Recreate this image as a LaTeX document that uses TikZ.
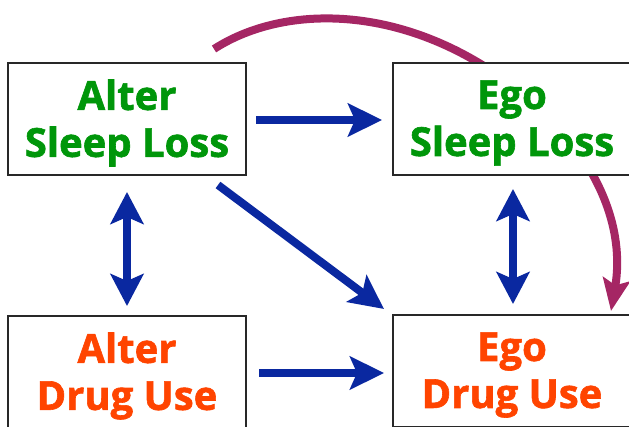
\documentclass[tikz,border=0pt]{standalone}
\usepackage{fontspec}
\setmainfont{Open Sans}[BoldFeatures={FakeBold=1.5}]
\usetikzlibrary{arrows.meta,backgrounds}
\definecolor{sleepgreen}{RGB}{0,150,10}
\definecolor{drugorange}{RGB}{255,68,0}
\definecolor{arrowblue}{RGB}{10,40,160}
\definecolor{curvepurple}{RGB}{165,38,100}
\definecolor{boxgray}{RGB}{40,40,40}
\tikzset{
  varbox/.style={draw=boxgray, line width=2pt, fill=white, minimum width=238pt, minimum height=112pt,
    inner sep=0pt},
  vartext/.style={inner sep=0pt, align=center, font=\fontsize{40}{47}\selectfont\bfseries},
  sleeptext/.style={vartext, text=sleepgreen},
  drugtext/.style={vartext, text=drugorange},
  bluearrow/.style={draw=arrowblue, line width=8pt,
    -{Stealth[length=34pt,width=33pt,inset=7pt]}},
  bluedouble/.style={draw=arrowblue, line width=8pt,
    {Stealth[length=32pt,width=33pt,inset=7pt]}-{Stealth[length=32pt,width=33pt,inset=7pt]}},
  purplearrow/.style={draw=curvepurple, line width=8pt,
    -{Stealth[length=32pt,width=27pt,inset=6pt]}}
}
\begin{document}
\begin{tikzpicture}[x=1pt,y=-1pt]
\useasboundingbox (0,0) rectangle (629,427);
\node[varbox] (asl) at (127,119) {};
\node[varbox] (esl) at (512,119) {};
\node[varbox] (adu) at (127,372) {};
\node[varbox] (edu) at (512,371) {};
\node[sleeptext] (asltext) at ([yshift=-4pt]asl.center) {Alter\\Sleep Loss};
\node[sleeptext] (esltext) at ([yshift=-4pt]esl.center) {Ego\\Sleep Loss};
\node[drugtext] (adutext) at ([yshift=-4pt]adu.center) {Alter\\Drug Use};
\node[drugtext] (edutext) at ([yshift=-4pt]edu.center) {Ego\\Drug Use};
\begin{pgfonlayer}{background}
\draw[purplearrow] ([shift={(-33,-13)}]asl.north east)
  .. controls (290,0) and (420,5) .. (530,100)
  .. controls (600,160) and (625,230) .. ([shift={(-21,-3)}]edu.north east);
\end{pgfonlayer}
\draw[bluearrow] ([xshift=9pt,yshift=-1pt]asl.east) -- ([xshift=-10pt,yshift=-1pt]esl.west);
\draw[bluearrow] ([xshift=12pt,yshift=-1pt]adu.east) -- ([xshift=-8pt,yshift=-2pt]edu.west);
\draw[bluearrow] ([shift={(-29,9)}]asl.south east) -- ([shift={(-8,-5)}]edu.north west);
\draw[bluedouble] ([yshift=-16pt]asl.south) -- ([yshift=9pt]adu.north);
\draw[bluedouble] ([xshift=1pt,yshift=-13pt]esl.south) -- ([xshift=1pt,yshift=10pt]edu.north);
\end{tikzpicture}
\end{document}
